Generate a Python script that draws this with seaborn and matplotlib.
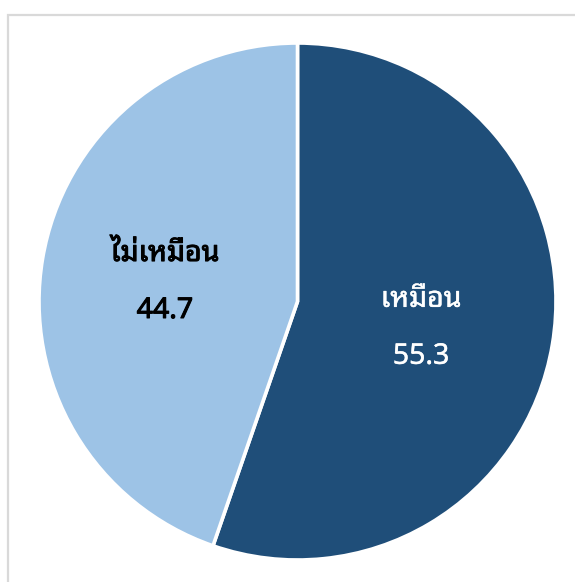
import numpy as np
import matplotlib
matplotlib.use("Agg")
import matplotlib.pyplot as plt
from matplotlib import font_manager
from matplotlib.patches import Rectangle
import matplotlib.patheffects as pe
import seaborn as sns

# Survey result: share of answers (percent)
categories = ["เหมือน", "ไม่เหมือน"]
values = [55.3, 44.7]
value_labels = ["55.3", "44.7"]

sns.set_theme(style="white")
colors = ["#1F4E79", "#9DC3E6"]
text_colors = ["white", "black"]
stroke_widths = [0.3, 0.75]


def thai_font():
    """Return an installed family that covers Thai script, if any."""
    preferred = ["Tahoma", "Leelawadee UI", "Leelawadee",
                 "Noto Sans Thai Looped", "Loma", "Garuda", "Waree",
                 "Noto Sans Thai", "Noto Sans Thai UI", "Sarabun",
                 "TH Sarabun New", "Norasi", "Kinnari"]
    names = {f.name for f in font_manager.fontManager.ttflist}
    for p in preferred:
        if p in names:
            return p
    try:
        from fontTools.ttLib import TTFont
        for f in font_manager.fontManager.ttflist:
            try:
                tt = TTFont(f.fname, fontNumber=0, lazy=True)
                cmap = tt.getBestCmap() or {}
                if ord("เ") in cmap and ord("ห") in cmap:
                    return f.name
            except Exception:
                continue
    except Exception:
        pass
    return "DejaVu Sans"


family = [thai_font(), "DejaVu Sans"]
plt.rcParams["font.family"] = family

W, H = 575, 582
fig = plt.figure(figsize=(W / 100, H / 100), dpi=100)
fig.patch.set_facecolor("white")

# Light grey frame (top and left edges visible)
fig.add_artist(Rectangle((7.5 / W, -0.05), 1.2, 1 - 14.5 / H + 0.05,
                         transform=fig.transFigure, fill=False,
                         edgecolor="#D9D9D9", linewidth=1.6))

ax = fig.add_axes([39 / W, 22 / H, 517 / W, 517 / H])
wedges, _ = ax.pie(values, colors=colors, startangle=90, counterclock=False,
                   radius=1.0,
                   wedgeprops=dict(edgecolor="white", linewidth=2.6))
ax.set_xlim(-1, 1)
ax.set_ylim(-1, 1)
ax.axis("off")

dists = [0.485, 0.52]
nudges = [-4.0, -2.0]  # vertical shift of each label block, points
for w, cat, lab, tc, sw, d, nd in zip(wedges, categories, value_labels,
                                      text_colors, stroke_widths, dists, nudges):
    mid = np.deg2rad((w.theta1 + w.theta2) / 2)
    x, y = d * np.cos(mid), d * np.sin(mid)
    effects = [pe.withStroke(linewidth=sw, foreground=tc)] if sw > 0 else []
    ax.annotate(cat, (x, y), xytext=(0, 20.5 + nd), textcoords="offset points",
                ha="center", va="center", fontsize=20.5, color=tc,
                path_effects=effects)
    ax.annotate(lab, (x, y), xytext=(0, -20.5 + nd), textcoords="offset points",
                ha="center", va="center", fontsize=20.5, color=tc,
                path_effects=effects)

fig.savefig("out.png", dpi=100, facecolor="white")
